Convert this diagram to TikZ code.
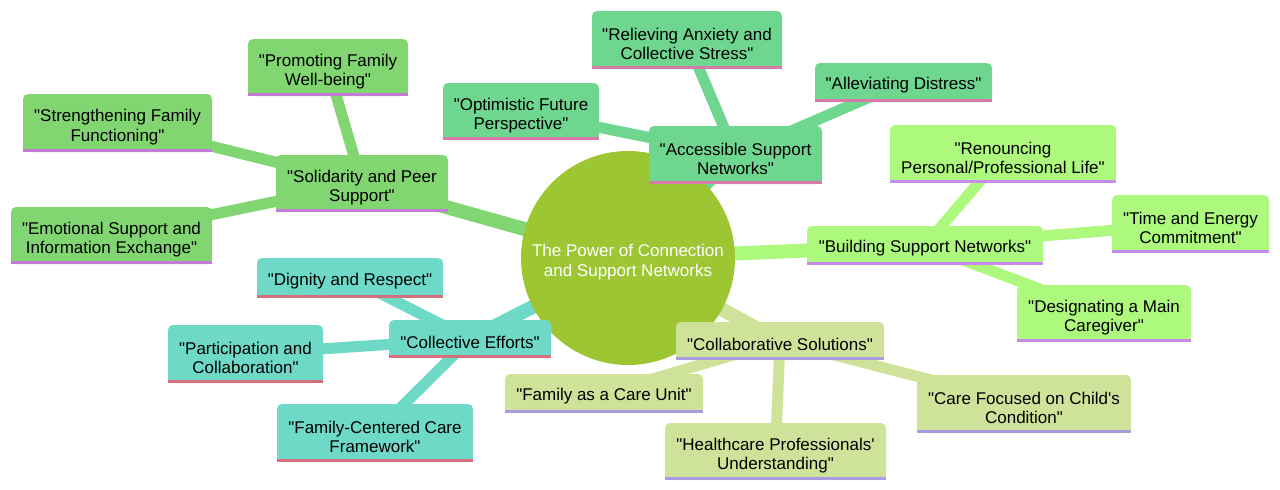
\documentclass[tikz,border=0pt]{standalone}
\usepackage{fontspec}
\newfontfamily\mindfont{Liberation Sans}
\usepackage{xcolor}
\usepackage{tikz}
\usetikzlibrary{backgrounds}
\definecolor{netroot}{HTML}{9DC633}
\definecolor{netpeer}{HTML}{81D672}
\definecolor{netpeerline}{HTML}{C57CD6}
\definecolor{netaccess}{HTML}{6ED68F}
\definecolor{netaccessline}{HTML}{D67BA8}
\definecolor{netbuild}{HTML}{ADF97D}
\definecolor{netbuildline}{HTML}{C98AF0}
\definecolor{netsolve}{HTML}{CFE29A}
\definecolor{netsolveline}{HTML}{A99CE0}
\definecolor{neteffort}{HTML}{6DD9C6}
\definecolor{neteffortline}{HTML}{D6707F}

\begin{document}
\begin{tikzpicture}[x=1pt,y=-1pt,
  every node/.style={font=\mindfont\fontsize{17}{19.5}\selectfont,align=center,inner sep=0pt},
  one/.style={text height=18.4pt},
  two/.style={text height=40pt},
  box/.style={rounded corners=5pt,text=black},
  peer/.style={box,fill=netpeer},
  access/.style={box,fill=netaccess},
  build/.style={box,fill=netbuild},
  solve/.style={box,fill=netsolve},
  effort/.style={box,fill=neteffort},
  link/.style={line width=14pt},
  sublink/.style={line width=11pt}]
  \useasboundingbox (0,0) rectangle (1280,490);

  \node[two,circle,fill=netroot,minimum size=214pt,text=white] (root) at (628,258)
    {The Power of Connection\\and Support Networks};

  \node[two,peer,minimum width=172pt,minimum height=57pt] (peer) at (362,183.5) {"Solidarity and Peer\\Support"};
  \node[two,peer,minimum width=160pt,minimum height=57pt] (peerwell) at (328,67.5) {"Promoting Family\\Well-being"};
  \node[two,peer,minimum width=189pt,minimum height=58pt] (peerfunc) at (117.5,123) {"Strengthening Family\\Functioning"};
  \node[two,peer,minimum width=201pt,minimum height=57pt] (peerinfo) at (111.5,235.5) {"Emotional Support and\\Information Exchange"};

  \node[two,access,minimum width=173pt,minimum height=58pt] (access) at (735.5,155) {"Accessible Support\\Networks"};
  \node[two,access,minimum width=190pt,minimum height=58pt] (accstress) at (687,40) {"Relieving Anxiety and\\Collective Stress"};
  \node[one,access,minimum width=177pt,minimum height=39pt] (accdistress) at (903.5,82.5) {"Alleviating Distress"};
  \node[two,access,minimum width=156pt,minimum height=57pt] (accfuture) at (521,111.5) {"Optimistic Future\\Perspective"};

  \node[one,build,minimum width=236pt,minimum height=39pt] (build) at (925,245.5) {"Building Support Networks"};
  \node[two,build,minimum width=226pt,minimum height=58pt] (buildlife) at (1003,154) {"Renouncing\\Personal/Professional Life"};
  \node[two,build,minimum width=157pt,minimum height=58pt] (buildtime) at (1190.5,224) {"Time and Energy\\Commitment"};
  \node[two,build,minimum width=174pt,minimum height=57pt] (buildcare) at (1104,313.5) {"Designating a Main\\Caregiver"};

  \node[one,solve,minimum width=208pt,minimum height=38pt] (solve) at (780,341) {"Collaborative Solutions"};
  \node[one,solve,minimum width=198pt,minimum height=39pt] (solveunit) at (604,393.5) {"Family as a Care Unit"};
  \node[two,solve,minimum width=221pt,minimum height=57pt] (solvestaff) at (775.5,451.5) {"Healthcare Professionals'\\Understanding"};
  \node[two,solve,minimum width=214pt,minimum height=58pt] (solvechild) at (1024,404) {"Care Focused on Child's\\Condition"};

  \node[one,effort,minimum width=162pt,minimum height=38pt] (effort) at (470,339) {"Collective Efforts"};
  \node[one,effort,minimum width=186pt,minimum height=40pt] (effortdign) at (350,278) {"Dignity and Respect"};
  \node[two,effort,minimum width=155pt,minimum height=58pt] (effortpart) at (245.5,354) {"Participation and\\Collaboration"};
  \node[two,effort,minimum width=196pt,minimum height=58pt] (effortframe) at (375,433) {"Family-Centered Care\\Framework"};

  \foreach \n/\f/\s in {peer/netpeer/netpeerline,peerwell/netpeer/netpeerline,
      peerfunc/netpeer/netpeerline,peerinfo/netpeer/netpeerline,
      access/netaccess/netaccessline,accstress/netaccess/netaccessline,
      accdistress/netaccess/netaccessline,accfuture/netaccess/netaccessline,
      build/netbuild/netbuildline,buildlife/netbuild/netbuildline,
      buildtime/netbuild/netbuildline,buildcare/netbuild/netbuildline,
      solve/netsolve/netsolveline,solveunit/netsolve/netsolveline,
      solvestaff/netsolve/netsolveline,solvechild/netsolve/netsolveline,
      effort/neteffort/neteffortline,effortdign/neteffort/neteffortline,
      effortpart/neteffort/neteffortline,effortframe/neteffort/neteffortline} {
    \fill[\f] (\n.south west) rectangle ([yshift=7pt]\n.south east);
    \fill[\s] (\n.south west) rectangle ([yshift=3.5pt]\n.south east);
  }

  \begin{scope}[on background layer]
    \draw[link,netpeer] (root.center) -- (peer.center);
    \draw[link,netaccess] (root.center) -- (access.center);
    \draw[link,netbuild] (root.center) -- (build.center);
    \draw[link,netsolve] (root.center) -- (solve.center);
    \draw[link,neteffort] (root.center) -- (effort.center);
    \draw[sublink,netpeer] (peer.center) -- (peerwell.center);
    \draw[sublink,netpeer] (peer.center) -- (peerfunc.center);
    \draw[sublink,netpeer] (peer.center) -- (peerinfo.center);
    \draw[sublink,netaccess] (access.center) -- (accstress.center);
    \draw[sublink,netaccess] (access.center) -- (accdistress.center);
    \draw[sublink,netaccess] (access.center) -- (accfuture.center);
    \draw[sublink,netbuild] (build.center) -- (buildlife.center);
    \draw[sublink,netbuild] (build.center) -- (buildtime.center);
    \draw[sublink,netbuild] (build.center) -- (buildcare.center);
    \draw[sublink,netsolve] (solve.center) -- (solveunit.center);
    \draw[sublink,netsolve] (solve.center) -- (solvestaff.center);
    \draw[sublink,netsolve] (solve.center) -- (solvechild.center);
    \draw[sublink,neteffort] (effort.center) -- (effortdign.center);
    \draw[sublink,neteffort] (effort.center) -- (effortpart.center);
    \draw[sublink,neteffort] (effort.center) -- (effortframe.center);
  \end{scope}
\end{tikzpicture}
\end{document}
